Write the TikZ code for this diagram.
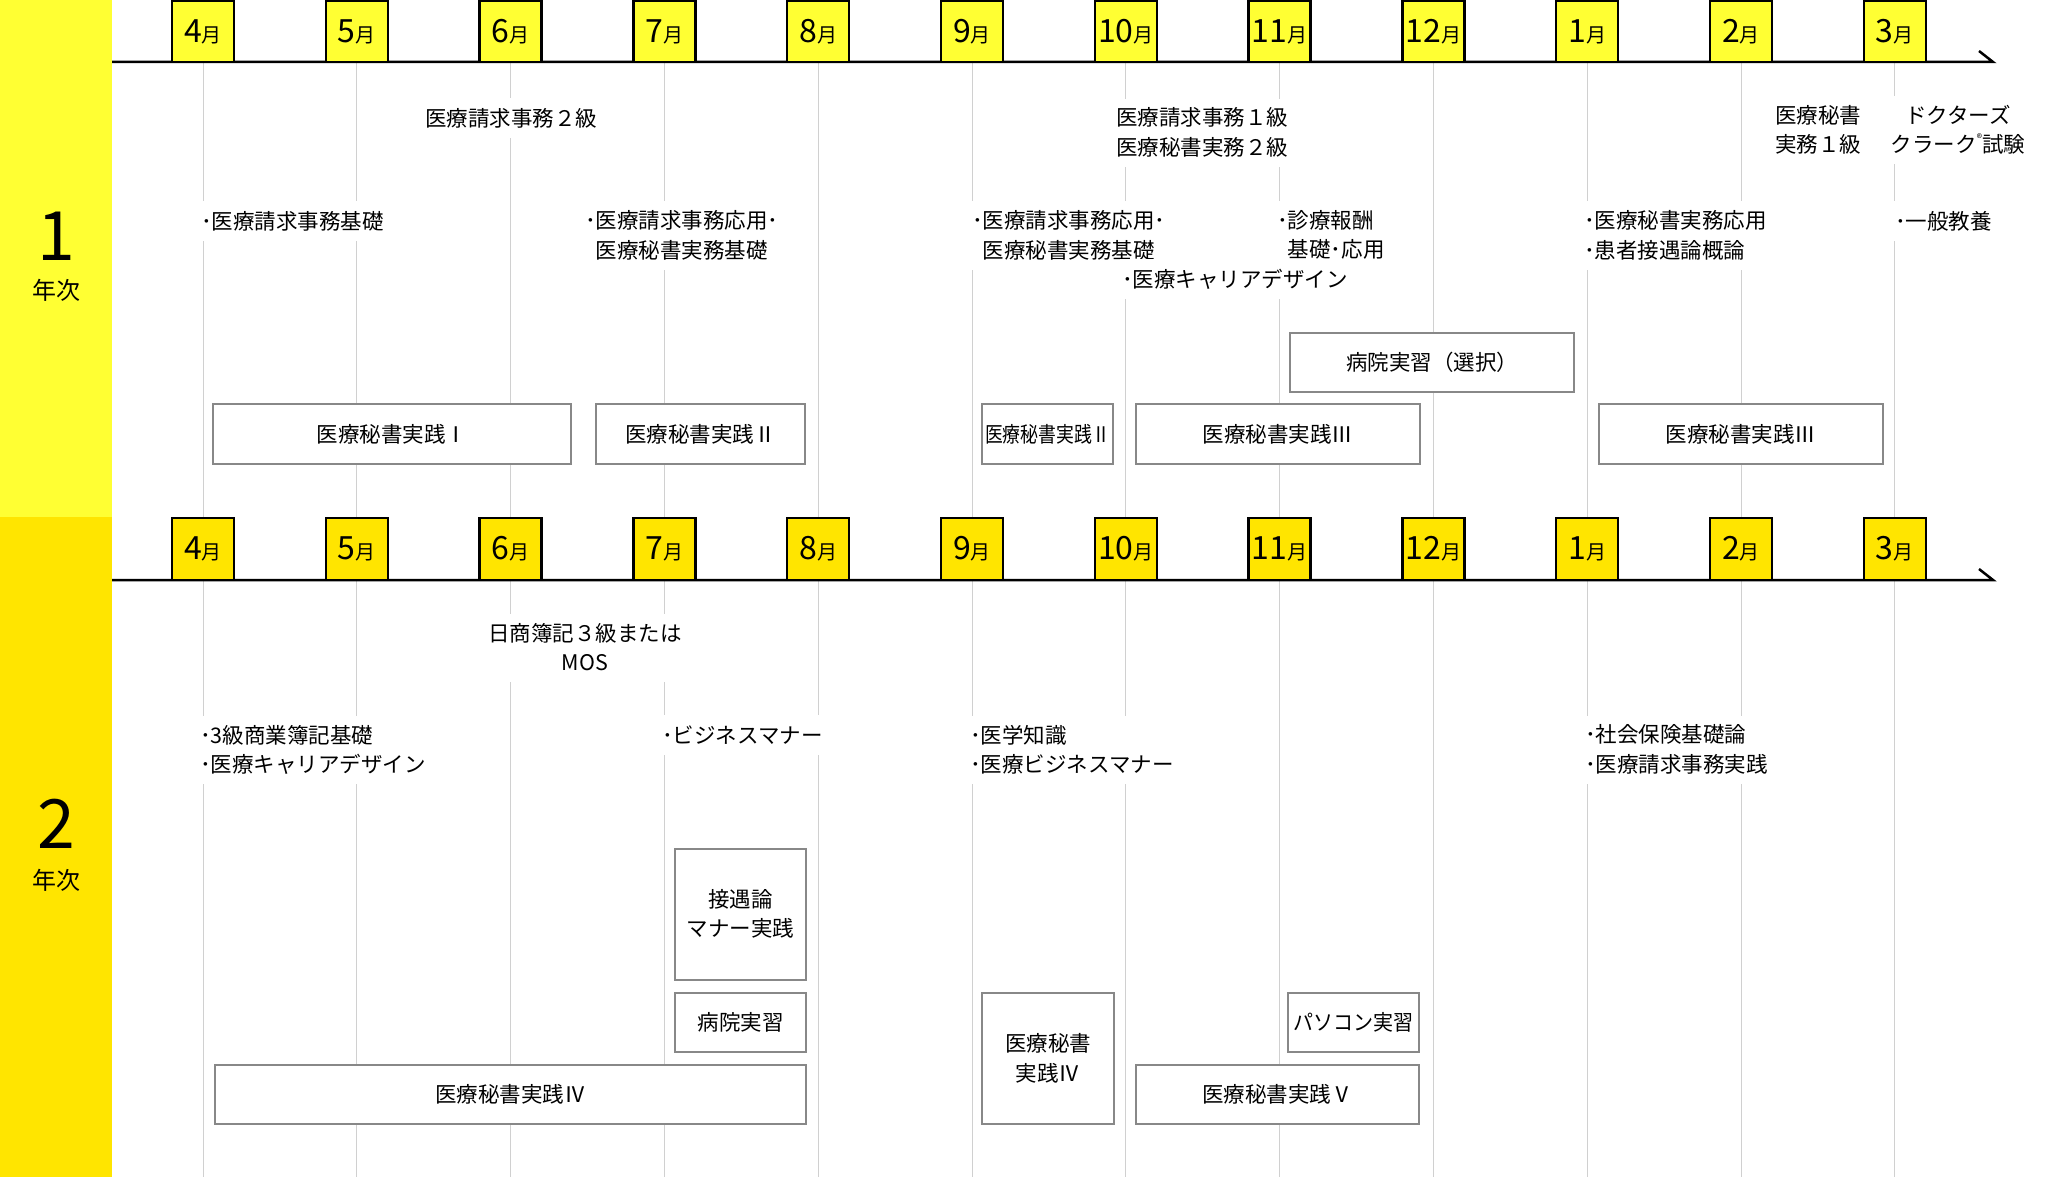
\documentclass[tikz,border=0pt]{standalone}
\usepackage{graphicx}
\usepackage{fontspec}
\setmainfont{Noto Sans CJK JP}
\definecolor{yA}{RGB}{255,255,51}
\definecolor{yB}{RGB}{255,229,0}
\definecolor{grayB}{RGB}{136,136,136}
\definecolor{gridc}{RGB}{208,208,208}
\newcommand\sst{\rule[-0.12em]{0pt}{1em}}
\newcommand\mlab[1]{{\fontsize{32}{32}\selectfont #1}{\fontsize{20}{20}\selectfont 月}}
\tikzset{
  gridline/.style={draw=gridc, line width=1pt},
  tline/.style={draw=black, line width=2.5pt, line join=miter},
  mboxA/.style={draw=black, line width=2.5pt, fill=yA, minimum width=62pt, minimum height=61pt, inner sep=0pt},
  mboxB/.style={draw=black, line width=2.5pt, fill=yB, minimum width=62pt, minimum height=62pt, inner sep=0pt},
  lbl/.style={fill=white, inner xsep=2pt, inner ysep=9pt, font=\fontsize{21.5}{29.5}\selectfont, align=left, anchor=west, execute at begin node=\sst, execute at end node=\sst},
  lblc/.style={lbl, align=center, anchor=center},
  gbox/.style={draw=grayB, line width=2.5pt, fill=white, inner sep=0pt, font=\fontsize{21.5}{29.5}\selectfont, align=center, execute at begin node=\sst, execute at end node=\sst},
  yrnum/.style={inner sep=0pt, font=\fontsize{68}{68}\selectfont},
  yrlab/.style={inner sep=0pt, font=\fontsize{24}{24}\selectfont}
}
\begin{document}
\begin{tikzpicture}[x=1pt,y=-1pt]
\useasboundingbox (0,0) rectangle (2072,1177);
\fill[white] (0,0) rectangle (2072,1177);
% year bands
\fill[yA] (0,0) rectangle (112,517);
\fill[yB] (0,517) rectangle (112,1177);
\node[yrnum] (n1) at (56,236) {1};
\node[yrlab] (l1) at (56,290) {年次};
\node[yrnum] (n2) at (56,824) {2};
\node[yrlab] (l2) at (56,880) {年次};
% grid lines
\foreach \m [count=\i from 0] in {4,5,6,7,8,9,10,11,12,1,2,3} {
  \pgfmathsetmacro\xx{203+153.8*\i}
  \draw[gridline] (\xx,62) -- (\xx,1177);
}
% timelines
\coordinate (t1s) at (112,62);
\coordinate (t1e) at (1993,62);
\coordinate (t1k) at (1979,51);
\draw[tline] (t1s) -- (t1e) -- (t1k);
\coordinate (t2s) at (112,580);
\coordinate (t2e) at (1993,580);
\coordinate (t2k) at (1979,569);
\draw[tline] (t2s) -- (t2e) -- (t2k);
% month boxes
\foreach \m [count=\i from 0] in {4,5,6,7,8,9,10,11,12,1,2,3} {
  \pgfmathsetmacro\xx{203+153.8*\i}
  \node[mboxA] (ma\m) at (\xx,31.5) {\mlab{\m}};
  \node[mboxB] (mb\m) at (\xx,549) {\mlab{\m}};
}
% year 1 texts
\node[lblc] (t1) at (511,118) {医療請求事務２級};
\node[lbl] (t2) at (199,221) {･医療請求事務基礎};
\node[lbl] (t3) at (583,235.5) {･医療請求事務応用･\\\phantom{･}医療秘書実務基礎};
\node[lblc] (t4) at (1202,133) {医療請求事務１級\\医療秘書実務２級};
\node[lbl] (t5) at (970,235.5) {･医療請求事務応用･\\\phantom{･}医療秘書実務基礎};
\node[lbl] (t6) at (1275,235.5) {･診療報酬\\\phantom{･}基礎･応用};
\node[lbl] (t7) at (1120,279) {･医療キャリアデザイン};
\node[lblc] (t8) at (1818,130) {医療秘書\\実務１級};
\node[lblc] (t9) at (1958,130) {ドクターズ\\クラーク\raisebox{0.45em}{\fontsize{11}{11}\selectfont ®}試験};
\node[lbl] (t10) at (1582,235.5) {･医療秘書実務応用\\･患者接遇論概論};
\node[lbl] (t11) at (1893,221) {･一般教養};
% year 1 boxes
\node[gbox, minimum width=358pt, minimum height=60pt] (b1) at (392,434) {医療秘書実践Ⅰ};
\node[gbox, minimum width=209pt, minimum height=60pt] (b2) at (700.5,434) {医療秘書実践Ⅱ};
\node[gbox, minimum width=131pt, minimum height=60pt] (b3) at (1047.5,434) {\scalebox{0.83}[1]{医療秘書実践Ⅱ}};
\node[gbox, minimum width=284pt, minimum height=60pt] (b4) at (1278,434) {医療秘書実践Ⅲ};
\node[gbox, minimum width=284pt, minimum height=59pt] (b5) at (1432,362.5) {病院実習（選択）};
\node[gbox, minimum width=284pt, minimum height=60pt] (b6) at (1741,434) {医療秘書実践Ⅲ};
% year 2 texts
\node[lblc] (u1) at (585,648) {日商簿記３級または\\MOS};
\node[lbl] (u2) at (198,750) {･3級商業簿記基礎\\･医療キャリアデザイン};
\node[lbl] (u3) at (660,735) {･ビジネスマナー};
\node[lbl] (u4) at (968,750) {･医学知識\\･医療ビジネスマナー};
\node[lbl] (u5) at (1583,750) {･社会保険基礎論\\･医療請求事務実践};
% year 2 boxes
\node[gbox, minimum width=131pt, minimum height=131pt] (c1) at (740.5,914.5) {接遇論\\マナー実践};
\node[gbox, minimum width=131pt, minimum height=59pt] (c2) at (740.5,1022.5) {病院実習};
\node[gbox, minimum width=591pt, minimum height=59pt] (c3) at (510.5,1094.5) {医療秘書実践Ⅳ};
\node[gbox, minimum width=132pt, minimum height=131pt] (c4) at (1048,1058.5) {医療秘書\\実践Ⅳ};
\node[gbox, minimum width=131pt, minimum height=59pt] (c5) at (1353.5,1022.5) {\scalebox{0.93}[1]{パソコン実習}};
\node[gbox, minimum width=283pt, minimum height=59pt] (c6) at (1277.5,1094.5) {医療秘書実践Ⅴ};
\end{tikzpicture}
\end{document}
